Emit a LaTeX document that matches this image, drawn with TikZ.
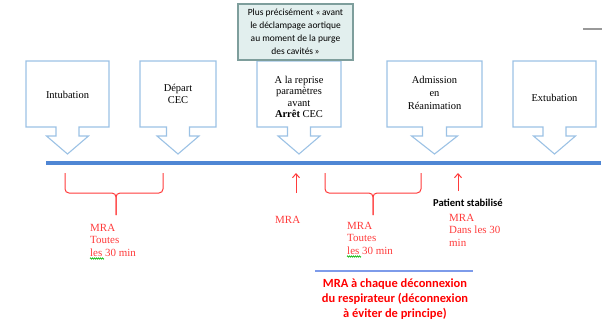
\documentclass[tikz,border=0pt]{standalone}
\usepackage{fontspec}
\setmainfont{Liberation Serif}
\newfontfamily\calfont{Carlito}
\usetikzlibrary{arrows.meta,decorations.pathmorphing}
\definecolor{boxblue}{HTML}{9CC2E5}
\definecolor{lineblue}{HTML}{4F86D4}
\definecolor{tred}{HTML}{FF3B3B}
\definecolor{greenfill}{HTML}{E2EFEE}
\definecolor{greenedge}{HTML}{7E9E9C}
\newcommand\tlcall[4]{% left, right, shaft half, wing half
  \draw[callbox] (#1,61) -- (#2,61) -- (#2,127)
    -- ({(#1+#2)/2+#3},127) -- ({(#1+#2)/2+#3},136) -- ({(#1+#2)/2+#4},136)
    -- ({(#1+#2)/2},154) -- ({(#1+#2)/2-#4},136) -- ({(#1+#2)/2-#3},136)
    -- ({(#1+#2)/2-#3},127) -- (#1,127) -- cycle;}
\begin{document}
\begin{tikzpicture}[x=1bp,y=-1bp,
  callbox/.style={draw=boxblue,line width=1.1bp,fill=white},
  boxtext/.style={align=center,font=\fontsize{10.5}{12}\selectfont,inner sep=0pt},
  redtext/.style={align=left,anchor=base west,text=tred,font=\fontsize{11}{12.5}\selectfont,inner sep=0pt},
  bracepath/.style={draw=tred,line width=1bp,rounded corners=4bp},
  redarrow/.style={draw=tred,line width=1bp,-{Straight Barb[length=4bp,width=7bp]}},
  squiggle/.style={green!70!black,line width=0.6bp,decorate,decoration={zigzag,amplitude=0.7bp,segment length=2bp}},
  boldred/.style={align=center,text=red,font=\calfont\bfseries\fontsize{12.5}{15}\selectfont,inner sep=0pt,anchor=base}]
\useasboundingbox (0,0) rectangle (602,322);
% timeline
\coordinate (tlA) at (46,163);
\coordinate (tlB) at (601,163);
\draw[lineblue,line width=4.5bp] (tlA) -- (tlB);
% callouts
\tlcall{26}{109}{11.5}{21}
\tlcall{140}{216}{11.5}{21}
\tlcall{257}{341}{11.5}{21}
\tlcall{387}{482}{12}{23}
\tlcall{513}{596}{11.5}{21}
\node[boxtext] (t1) at (67.5,95) {Intubation};
\node[boxtext] (t2) at (178,94) {Départ\\CEC};
\node[boxtext,font=\fontsize{10.5}{11.5}\selectfont] (t3) at (299,97) {A la reprise\\paramètres\\avant\\\textbf{Arrêt} CEC};
\node[boxtext,font=\fontsize{10.5}{13}\selectfont] (t4) at (434.5,93) {Admission\\en\\Réanimation};
\node[boxtext] (t5) at (554.5,98) {Extubation};
% green note
\node[draw=greenedge,fill=greenfill,line width=1.1bp,minimum width=115bp,minimum height=56bp,inner sep=0pt,
  align=center,font=\calfont\fontsize{9.5}{13}\selectfont] (note) at (295.5,32)
  {Plus précisément «\,avant\\le déclampage aortique\\au moment de la purge\\des cavités\,»};
% gray mark top right
\coordinate (gA) at (583,29);
\coordinate (gB) at (602,29);
\draw[gray!80,line width=1.2bp] (gA) -- (gB);
% braces
\coordinate (b1L) at (65,173); \coordinate (b1R) at (163,173);
\coordinate (b1C) at (116,193); \coordinate (b1T) at (116,215);
\draw[bracepath] (b1L) -- (b1L |- b1C) -- (b1C) -- (b1T);
\draw[bracepath] (b1R) -- (b1R |- b1C) -- (b1C) -- (b1T);
\coordinate (b2L) at (325,173); \coordinate (b2R) at (421,173);
\coordinate (b2C) at (373,193); \coordinate (b2T) at (373,215);
\draw[bracepath] (b2L) -- (b2L |- b2C) -- (b2C) -- (b2T);
\draw[bracepath] (b2R) -- (b2R |- b2C) -- (b2C) -- (b2T);
% arrows
\coordinate (a1S) at (296,193); \coordinate (a1E) at (296,173);
\draw[redarrow] (a1S) -- (a1E);
\coordinate (a2S) at (458,191); \coordinate (a2E) at (458,173);
\draw[redarrow] (a2S) -- (a2E);
% red texts (base anchor = last line baseline)
\node[redtext] (m1) at (90,256) {MRA\\Toutes\\les 30 min};
\node[redtext] (m2) at (275,223) {MRA};
\node[redtext] (m3) at (347,254) {MRA\\Toutes\\les 30 min};
\node[anchor=base west,inner sep=0pt,font=\calfont\bfseries\fontsize{10.6}{12}\selectfont] (ps) at (433,206) {Patient stabilisé};
\node[redtext] (m4) at (449,246) {MRA\\Dans les 30\\min};
% spell-check squiggles
\draw[squiggle] (90,258.5) -- (104,258.5);
\draw[squiggle] (347,256.5) -- (361,256.5);
% bottom block
\coordinate (lA) at (315,271); \coordinate (lB) at (473,271);
\draw[boxblue!80!blue,line width=1.5bp] (lA) -- (lB);
\node[boldred] (bot) at (395,317) {MRA à chaque déconnexion\\du respirateur (déconnexion\\à éviter de principe)};
\end{tikzpicture}
\end{document}
